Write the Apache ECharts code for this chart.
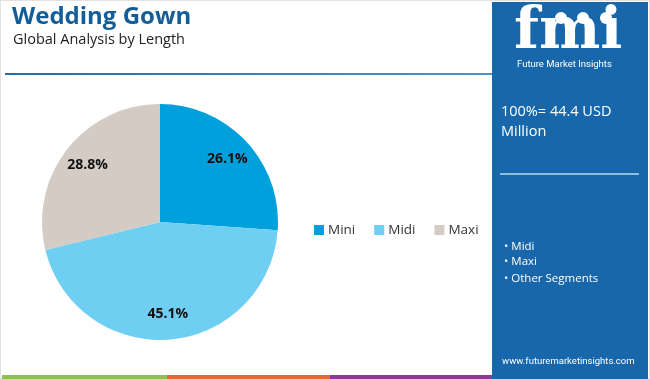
<!DOCTYPE html>
<html>
<head>
<meta charset="utf-8">
<script src="https://cdn.jsdelivr.net/npm/echarts@6/dist/echarts.min.js"></script>
<style>
html,body{margin:0;padding:0;background:#fff;}
#c{width:650px;height:379px;}
</style>
</head>
<body>
<div id="c"></div>
<script>
var categories = ['Mini', 'Midi', 'Maxi'];
var values = [26.1, 45.1, 28.8];
var colors = ['#00a0dc', '#6fcff3', '#d5cbc5'];
var panelBullets = ['• Midi', '• Maxi', '• Other Segments'];

var chart = echarts.init(document.getElementById('c'));
var pieData = categories.map(function (c, i) {
  return { name: c, value: values[i], itemStyle: { color: colors[i] } };
});
var labelData = categories.map(function (c, i) {
  return { name: c, value: values[i] };
});

chart.setOption({
  animation: false,
  backgroundColor: '#fff',
  legend: {
    data: categories,
    left: 309, top: 218,
    itemWidth: 10, itemHeight: 10, itemGap: 19,
    icon: 'rect',
    textStyle: { fontSize: 13.5, color: '#333', fontFamily: '"Open Sans", sans-serif', padding: [0, 0, 0, -1] }
  },
  series: [
    {
      type: 'pie',
      center: [160, 222],
      radius: [0, 118],
      startAngle: 90,
      clockwise: true,
      label: { show: false },
      labelLine: { show: false },
      emphasis: { disabled: true },
      silent: true,
      itemStyle: { borderWidth: 0 },
      data: pieData
    },
    {
      type: 'pie',
      center: [160, 222],
      radius: [60, 118],
      startAngle: 90,
      clockwise: true,
      silent: true,
      legendHoverLink: false,
      itemStyle: { color: 'rgba(0,0,0,0)' },
      label: {
        show: true, position: 'inside',
        formatter: function (p) { return p.value.toFixed(1) + '%'; },
        fontSize: 14, fontWeight: 'bold', color: '#111',
        fontFamily: '"Open Sans", Roboto, sans-serif'
      },
      labelLine: { show: false },
      emphasis: { disabled: true },
      data: labelData
    }
  ],
  graphic: [
    { type: 'rect', shape: { x: 0, y: 0, width: 650, height: 379 }, style: { fill: 'none', stroke: '#e2e2e2', lineWidth: 2 }, silent: true, z: 0 },
    { type: 'text', left: 12, top: 5, style: { text: 'Wedding Gown', fontSize: 24, fontWeight: 'bold', fill: '#135d98', fontFamily: '"Open Sans", sans-serif' } },
    { type: 'text', left: 13, top: 32, style: { text: 'Global Analysis by Length', fontSize: 14.5, fill: '#222', fontFamily: '"Open Sans", sans-serif' } },
    { type: 'rect', shape: { x: 5, y: 73, width: 487, height: 2 }, style: { fill: new echarts.graphic.LinearGradient(0, 0, 1, 0, [{ offset: 0, color: '#1e6fb0' }, { offset: 1, color: '#4d93cc' }]) } },
    { type: 'rect', shape: { x: 2, y: 375, width: 165, height: 4 }, style: { fill: '#8dc04f' } },
    { type: 'rect', shape: { x: 167, y: 375, width: 163, height: 4 }, style: { fill: '#e46a33' } },
    { type: 'rect', shape: { x: 330, y: 375, width: 163, height: 4 }, style: { fill: '#8e3a93' } },
    { type: 'rect', shape: { x: 492, y: 2, width: 156, height: 377 }, style: { fill: '#1767aa' } },
    { type: 'text', left: 514, top: 4, style: { text: 'fmi', fontSize: 58, fontWeight: 'bold', fill: '#ffffff', fontFamily: '"DejaVu Serif", "Liberation Serif", serif' } },
    { type: 'circle', shape: { cx: 561, cy: 18, r: 6 }, style: { fill: '#ffffff' } },
    { type: 'circle', shape: { cx: 583, cy: 18, r: 6 }, style: { fill: '#ffffff' } },
    { type: 'circle', shape: { cx: 606, cy: 18, r: 6 }, style: { fill: '#ffffff' } },
    { type: 'text', left: 517, top: 60, style: { text: 'Future Market Insights', fontSize: 9.5, fill: '#ffffff', fontFamily: 'Roboto, sans-serif' } },
    { type: 'text', left: 501, top: 104, style: { text: '100%= 44.4 USD', fontSize: 14.5, fill: '#ffffff', fontFamily: '"Open Sans", sans-serif' } },
    { type: 'text', left: 501, top: 124, style: { text: 'Million', fontSize: 14.5, fill: '#ffffff', fontFamily: '"Open Sans", sans-serif' } },
    { type: 'rect', shape: { x: 500, y: 173, width: 139, height: 2 }, style: { fill: '#8fbde3' } },
    { type: 'text', left: 504, top: 241, style: { text: panelBullets[0], fontSize: 11.5, fill: '#ffffff', fontFamily: '"Open Sans", sans-serif' } },
    { type: 'text', left: 504, top: 256, style: { text: panelBullets[1], fontSize: 11.5, fill: '#ffffff', fontFamily: '"Open Sans", sans-serif' } },
    { type: 'text', left: 504, top: 273, style: { text: panelBullets[2], fontSize: 11.5, fill: '#ffffff', fontFamily: '"Open Sans", sans-serif' } },
    { type: 'text', left: 502, top: 357, style: { text: 'www.futuremarketinsights.com', fontSize: 9.5, fill: '#ffffff', fontFamily: 'Roboto, sans-serif' } }
  ]
});
</script>
</body>
</html>
